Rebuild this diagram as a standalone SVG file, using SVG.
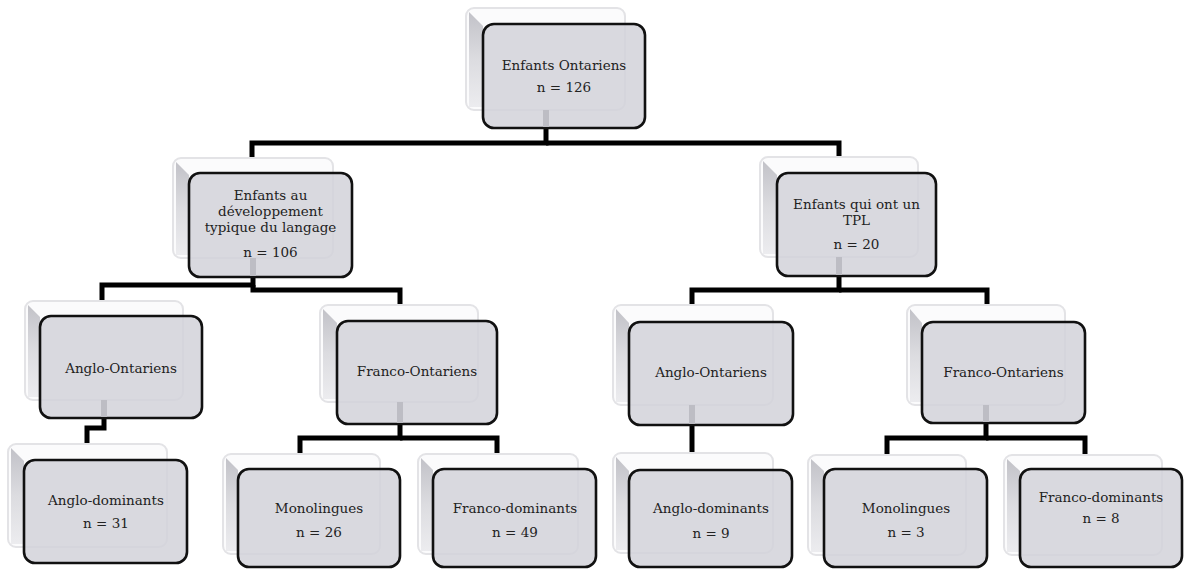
<svg xmlns="http://www.w3.org/2000/svg" width="1185" height="569" viewBox="0 0 1185 569">
<defs>
<linearGradient id="bevel" x1="0" y1="0" x2="0" y2="1">
<stop offset="0" stop-color="#c2c2c8"/>
<stop offset="0.5" stop-color="#dcdce0"/>
<stop offset="1" stop-color="#ececef"/>
</linearGradient>
<style>
.sh{fill:#fbfbfc;stroke:#e3e3e6;stroke-width:2}
.bv{fill:url(#bevel)}
.mb{fill:#d3d3da;fill-opacity:0.86;stroke:#111;stroke-width:2.6}
.t{font-family:"DejaVu Serif","Liberation Serif",serif;font-size:13.5px;fill:#222;text-anchor:middle}
.cn{fill:none;stroke:#000;stroke-width:5;stroke-linejoin:miter;stroke-linecap:butt}
.cg{fill:none;stroke:#bdbdc4;stroke-width:6}
</style>
</defs>
<rect width="1185" height="569" fill="#fff"/>

<g id="connectors">
<path class="cn" d="M546,127 V143 H252 V157"/>
<path class="cn" d="M546,143 H839 V158"/>
<path class="cn" d="M253,276 V285 H102 V302"/>
<path class="cn" d="M253,285 V290 H400 V306"/>
<path class="cn" d="M839,275 V290 H692 V306"/>
<path class="cn" d="M839,290 H987 V306"/>
<path class="cn" d="M104,417 V428 H87 V445"/>
<path class="cn" d="M400,423 V438 H300 V455"/>
<path class="cn" d="M400,438 H497 V455"/>
<path class="cn" d="M692,424 V454"/>
<path class="cn" d="M986,422 V438 H887 V456"/>
<path class="cn" d="M986,438 H1085 V456"/>
</g>

<g id="n-root">
<rect class="sh" x="466" y="8" width="159" height="102" rx="8"/>
<polygon class="bv" points="469,12 483,26 483,107 469,107"/>
<rect class="mb" x="483" y="24" width="162" height="104" rx="11"/>
<line class="cg" x1="546" y1="110" x2="546" y2="127"/>
<text class="t" x="564" y="70">Enfants Ontariens</text>
<text class="t" x="564" y="92">n = 126</text>
</g>

<g id="n-typique">
<rect class="sh" x="173" y="158" width="160" height="100" rx="8"/>
<polygon class="bv" points="176,162 189,175 189,255 176,255"/>
<rect class="mb" x="189" y="173" width="163" height="104" rx="11"/>
<line class="cg" x1="253" y1="258" x2="253" y2="276"/>
<text class="t" x="270.5" y="200">Enfants au</text>
<text class="t" x="270.5" y="216">développement</text>
<text class="t" x="270.5" y="232">typique du langage</text>
<text class="t" x="270.5" y="257">n = 106</text>
</g>

<g id="n-tpl">
<rect class="sh" x="760" y="157" width="158" height="100" rx="8"/>
<polygon class="bv" points="763,161 777,175 777,254 763,254"/>
<rect class="mb" x="777" y="173" width="159" height="103" rx="11"/>
<line class="cg" x1="839" y1="257" x2="839" y2="275"/>
<text class="t" x="856.5" y="209">Enfants qui ont un</text>
<text class="t" x="856.5" y="225">TPL</text>
<text class="t" x="856.5" y="249">n = 20</text>
</g>

<g id="n-anglo-ont-l">
<rect class="sh" x="25" y="301" width="158" height="99" rx="8"/>
<polygon class="bv" points="28,305 40,317 40,397 28,397"/>
<rect class="mb" x="40" y="316" width="162" height="102" rx="11"/>
<line class="cg" x1="104" y1="400" x2="104" y2="417"/>
<text class="t" x="121" y="373">Anglo-Ontariens</text>
</g>

<g id="n-franco-ont-l">
<rect class="sh" x="320" y="305" width="158" height="97" rx="8"/>
<polygon class="bv" points="323,309 337,323 337,399 323,399"/>
<rect class="mb" x="337" y="321" width="160" height="103" rx="11"/>
<line class="cg" x1="400" y1="402" x2="400" y2="423"/>
<text class="t" x="417" y="376">Franco-Ontariens</text>
</g>

<g id="n-anglo-ont-r">
<rect class="sh" x="613" y="305" width="160" height="100" rx="8"/>
<polygon class="bv" points="616,309 629,323 629,402 616,402"/>
<rect class="mb" x="629" y="322" width="164" height="103" rx="11"/>
<line class="cg" x1="692" y1="405" x2="692" y2="424"/>
<text class="t" x="711" y="377">Anglo-Ontariens</text>
</g>

<g id="n-franco-ont-r">
<rect class="sh" x="907" y="305" width="158" height="100" rx="8"/>
<polygon class="bv" points="910,309 922,323 922,402 910,402"/>
<rect class="mb" x="922" y="322" width="163" height="101" rx="11"/>
<line class="cg" x1="986" y1="405" x2="986" y2="422"/>
<text class="t" x="1003.5" y="377">Franco-Ontariens</text>
</g>

<g id="n-anglo-dom-l">
<rect class="sh" x="8" y="444" width="159" height="103" rx="8"/>
<polygon class="bv" points="11,448 24,461 24,544 11,544"/>
<rect class="mb" x="24" y="460" width="163" height="103" rx="11"/>
<text class="t" x="106" y="505">Anglo-dominants</text>
<text class="t" x="106" y="528">n = 31</text>
</g>

<g id="n-mono-l">
<rect class="sh" x="223" y="454" width="157" height="100" rx="8"/>
<polygon class="bv" points="226,458 238,470 238,551 226,551"/>
<rect class="mb" x="238" y="469" width="162" height="98" rx="11"/>
<text class="t" x="319" y="513">Monolingues</text>
<text class="t" x="319" y="537">n = 26</text>
</g>

<g id="n-franco-dom-l">
<rect class="sh" x="418" y="454" width="160" height="100" rx="8"/>
<polygon class="bv" points="421,458 433,470 433,551 421,551"/>
<rect class="mb" x="433" y="469" width="163" height="98" rx="11"/>
<text class="t" x="515" y="513">Franco-dominants</text>
<text class="t" x="515" y="537">n = 49</text>
</g>

<g id="n-anglo-dom-r">
<rect class="sh" x="613" y="453" width="160" height="100" rx="8"/>
<polygon class="bv" points="616,457 629,471 629,550 616,550"/>
<rect class="mb" x="629" y="470" width="163" height="97" rx="11"/>
<text class="t" x="711" y="513">Anglo-dominants</text>
<text class="t" x="711" y="538">n = 9</text>
</g>

<g id="n-mono-r">
<rect class="sh" x="808" y="455" width="158" height="100" rx="8"/>
<polygon class="bv" points="811,459 824,471 824,552 811,552"/>
<rect class="mb" x="824" y="469" width="163" height="98" rx="11"/>
<text class="t" x="906" y="513">Monolingues</text>
<text class="t" x="906" y="537">n = 3</text>
</g>

<g id="n-franco-dom-r">
<rect class="sh" x="1004" y="455" width="158" height="100" rx="8"/>
<polygon class="bv" points="1007,459 1020,471 1020,552 1007,552"/>
<rect class="mb" x="1020" y="469" width="162" height="98" rx="11"/>
<text class="t" x="1101" y="502">Franco-dominants</text>
<text class="t" x="1101" y="523">n = 8</text>
</g>
</svg>
